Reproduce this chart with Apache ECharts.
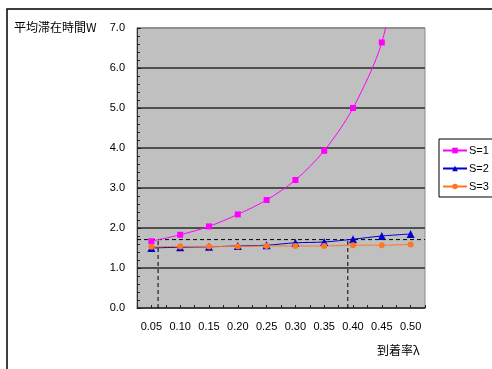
<!DOCTYPE html>
<html>
<head>
<meta charset="utf-8">
<script src="https://cdn.jsdelivr.net/npm/echarts@6/dist/echarts.min.js"></script>
<style>
html,body{margin:0;padding:0;background:#fff;}
#c{width:492px;height:369px;}
</style>
</head>
<body>
<div id="c"></div>
<script>
const categories = ['0.05','0.10','0.15','0.20','0.25','0.30','0.35','0.40','0.45','0.50'];
const s1 = [1.67, 1.83, 2.04, 2.34, 2.70, 3.20, 3.93, 5.00, 6.64, 10.0];
const s2 = [1.50, 1.52, 1.53, 1.55, 1.57, 1.63, 1.65, 1.72, 1.80, 1.85];
const s3 = [1.53, 1.54, 1.54, 1.54, 1.55, 1.55, 1.55, 1.57, 1.57, 1.59];
const seriesNames = ['S=1', 'S=2', 'S=3'];
const refLevel = 1.71;
const refX = [0.0616, 0.391];
const xRange = [0.025, 0.525];
const yTicks = [0, 1, 2, 3, 4, 5, 6, 7];
const yTitle = '平均滞在時間W';
const xTitle = '到着率λ';

const numFont = '"Liberation Sans", Arial, sans-serif';
const cjkFont = '"Noto Sans CJK JP", sans-serif';

const chart = echarts.init(document.getElementById('c'));

function mk(name, data, color, symbol, size) {
  return {
    name: name, type: 'line', data: data, xAxisIndex: 0, yAxisIndex: 0,
    smooth: 0.3, symbol: symbol, symbolSize: size, showSymbol: true,
    lineStyle: { color: color, width: 1 },
    itemStyle: { color: color },
    emphasis: { disabled: true }, z: 3
  };
}
function dash(pts) {
  return {
    type: 'line', xAxisIndex: 1, yAxisIndex: 0, data: pts, symbol: 'none',
    silent: true, lineStyle: { color: '#000', width: 1, type: [4, 3] }, z: 2
  };
}

const splitColors = yTicks.map((v, i) => (i === 0 ? '#404040' : (i === yTicks.length - 1 ? '#909090' : '#505050')));

chart.setOption({
  animation: false,
  backgroundColor: '#fff',
  grid: { left: 137, top: 28, right: 67, bottom: 61, show: true, backgroundColor: '#C0C0C0', borderColor: '#8a8a8a', borderWidth: 1 },
  legend: {
    data: seriesNames, orient: 'vertical', left: 439, top: 139,
    padding: [5, 30, 4, 3], itemGap: 5, itemWidth: 24, itemHeight: 7,
    borderColor: '#000', borderWidth: 1, backgroundColor: '#fff', borderRadius: 0,
    textStyle: { fontFamily: numFont, fontSize: 11, color: '#000', padding: [0, 0, 0, -3], lineHeight: 13 }
  },
  xAxis: [
    {
      type: 'category', data: categories, boundaryGap: true, position: 'bottom',
      axisLine: { show: false }, axisTick: { show: false },
      axisLabel: { margin: 13, fontFamily: numFont, fontSize: 11, color: '#000' },
      splitLine: { show: false }
    },
    {
      type: 'value', min: xRange[0], max: xRange[1], interval: 0.025, position: 'bottom',
      axisLine: { show: true, lineStyle: { color: '#404040', width: 1 } },
      axisTick: { show: true, inside: true, length: 3, lineStyle: { color: '#202020' } },
      axisLabel: { show: false }, splitLine: { show: false }
    }
  ],
  yAxis: {
    type: 'value', min: 0, max: 7, interval: 1,
    axisLine: { show: true, lineStyle: { color: '#303030', width: 1 } },
    axisTick: { show: true, inside: true, length: 4, lineStyle: { color: '#202020' } },
    minorTick: { show: true, splitNumber: 5, length: 3, lineStyle: { color: '#202020' } },
    axisLabel: { margin: 12, fontFamily: numFont, fontSize: 11, color: '#000', formatter: v => v.toFixed(1) },
    splitLine: { show: true, lineStyle: { color: splitColors, width: 2 } }
  },
  series: [
    mk(seriesNames[0], s1, '#FF00FF', 'rect', 6),
    mk(seriesNames[1], s2, '#0000CC', 'triangle', 8),
    mk(seriesNames[2], s3, '#FF7722', 'circle', 6),
    dash([[xRange[0], refLevel], [xRange[1], refLevel]]),
    dash([[refX[0], 0], [refX[0], refLevel]]),
    dash([[refX[1], 0], [refX[1], refLevel]])
  ],
  graphic: [
    { type: 'rect', shape: { x: 7, y: 9, width: 520, height: 420 }, style: { fill: 'none', stroke: '#000', lineWidth: 1.5 }, silent: true },
    { type: 'text', left: 14, top: 21, style: { text: yTitle, font: '12px ' + cjkFont, fill: '#000' } },
    { type: 'text', left: 377, top: 344, style: { text: xTitle, font: '12px ' + cjkFont, fill: '#000' } }
  ]
});
</script>
</body>
</html>
